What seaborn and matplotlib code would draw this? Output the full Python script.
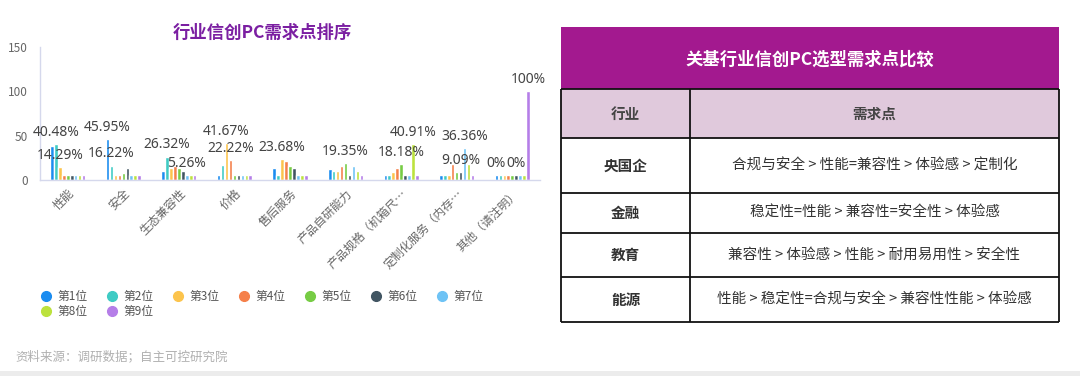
import numpy as np
import pandas as pd
import matplotlib
matplotlib.use("Agg")
import matplotlib.pyplot as plt
import seaborn as sns
from matplotlib.lines import Line2D
from matplotlib.patches import Rectangle

# ---------------- data ----------------
categories = ["性能", "安全", "生态兼容性", "价格", "售后服务", "产品自研能力",
              "产品规格（机箱尺…", "定制化服务（内存…", "其他（请注明）"]
ranks = ["第1位", "第2位", "第3位", "第4位", "第5位", "第6位", "第7位", "第8位", "第9位"]

rank_1 = [38.10, 45.95, 10.53, 5.56, 13.16, 12.90, 4.55, 4.55, 0]
rank_2 = [40.48, 16.22, 26.32, 16.67, 2.63, 9.68, 4.55, 4.55, 0]
rank_3 = [14.29, 2.70, 13.16, 41.67, 23.68, 9.68, 9.09, 0, 0]
rank_4 = [2.38, 5.41, 15.79, 22.22, 21.05, 16.13, 13.64, 18.18, 0]
rank_5 = [2.38, 8.11, 13.16, 2.78, 15.79, 19.35, 18.18, 9.09, 0]
rank_6 = [2.38, 13.51, 10.53, 2.78, 13.16, 3.23, 4.55, 9.09, 0]
rank_7 = [0, 2.70, 5.26, 2.78, 2.63, 16.13, 4.55, 36.36, 0]
rank_8 = [0, 2.70, 2.63, 2.78, 2.63, 9.68, 40.91, 18.18, 0]
rank_9 = [0, 2.70, 2.63, 2.78, 5.26, 3.23, 0, 0, 100]
series = [rank_1, rank_2, rank_3, rank_4, rank_5, rank_6, rank_7, rank_8, rank_9]

# which rank's value label is visible in each category
labelled_ranks = [[1, 2], [0, 1], [1, 6], [2, 3], [2], [4], [7, 4], [6, 5], [0, 5, 8]]

colors = ["#1a8cf0", "#3fcbc4", "#fcc44c", "#f5804a", "#76cc44",
          "#415562", "#6ec3f5", "#bce23d", "#b57ee8"]

chart_title = "行业信创PC需求点排序"
table_title = "关基行业信创PC选型需求点比较"
table_header = ["行业", "需求点"]
industries = ["央国企", "金融", "教育", "能源"]
demands = ["合规与安全 > 性能=兼容性 > 体验感 > 定制化",
           "稳定性=性能 > 兼容性=安全性 > 体验感",
           "兼容性 > 体验感 > 性能 > 耐用易用性 > 安全性",
           "性能 > 稳定性=合规与安全 > 兼容性性能 > 体验感"]
source_text = "资料来源：调研数据；自主可控研究院"

# ---------------- style ----------------
sns.set_theme(style="white")
plt.rcParams["font.family"] = ["Noto Sans CJK SC", "DejaVu Sans"]

MIN_BAR = 5.5  # minimum visible bar height (like barMinHeight)

rows = []
for r, vals in zip(ranks, series):
    for c, v in zip(categories, vals):
        rows.append({"category": c, "rank": r, "value": v, "display": max(v, MIN_BAR)})
df = pd.DataFrame(rows)

W, H = 1080, 376
fig = plt.figure(figsize=(W / 100, H / 100), dpi=100)
fig.patch.set_facecolor("white")

ax = fig.add_axes([40 / W, 1 - 180 / H, 500 / W, 133 / H])
sns.barplot(data=df, x="category", y="display", hue="rank", order=categories,
            hue_order=ranks, palette=colors, width=0.64, gap=0.1, saturation=1,
            legend=False, ax=ax)
ax.set_xlim(-0.5, len(categories) - 0.5)
ax.set_ylim(0, 150)
ax.set_yticks([0, 50, 100, 150])
ax.set_xlabel("")
ax.set_ylabel("")
for s in ["top", "right"]:
    ax.spines[s].set_visible(False)
for s in ["left", "bottom"]:
    ax.spines[s].set_color("#d5d8ec")
    ax.spines[s].set_linewidth(1.0)
ax.tick_params(axis="y", length=0, pad=9, labelsize=8.5, labelcolor="#666666")
ax.tick_params(axis="x", length=0, pad=5, labelsize=8.5, labelcolor="#666666")
for lab in ax.get_xticklabels():
    lab.set_rotation(45)
    lab.set_ha("right")
    lab.set_rotation_mode("anchor")

# value labels
for ci, rlist in enumerate(labelled_ranks):
    for ri in rlist:
        bar = ax.containers[ri][ci]
        xc = bar.get_x() + bar.get_width() / 2
        top = bar.get_height()
        ax.annotate(f"{series[ri][ci]:g}%", (xc, top), xytext=(0, 3),
                    textcoords="offset points", ha="center", va="bottom",
                    fontsize=10, color="#444444", family=["Noto Sans", "DejaVu Sans"])

fig.text(262 / W, 1 - 33 / H, chart_title, ha="center", va="center",
         fontsize=12.5, fontweight="bold", color="#7b1fa2")

# legend (reordered so it reads row by row)
handles = [Line2D([0], [0], marker="o", linestyle="none", markersize=7,
                  markerfacecolor=c, markeredgecolor=c) for c in colors]
order = [0, 7, 1, 8, 2, 3, 4, 5, 6]
fig.legend([handles[i] for i in order], [ranks[i] for i in order],
           loc="upper left", bbox_to_anchor=(41 / W, 1 - 290 / H),
           ncol=7, frameon=False, fontsize=8.5, handlelength=0.8, handletextpad=0.6,
           columnspacing=1.65, labelspacing=0.15, borderpad=0, borderaxespad=0,
           labelcolor="#555555")

fig.text(15 / W, 1 - 357 / H, source_text, ha="left", va="center",
         fontsize=9, color="#b0b0b0")

# ---------------- table (pixel overlay) ----------------
tax = fig.add_axes([0, 0, 1, 1], zorder=-1)
tax.set_xlim(0, W)
tax.set_ylim(H, 0)
tax.axis("off")

# bottom band
tax.add_patch(Rectangle((0, 371), W, 5, facecolor="#ececec", edgecolor="none"))

x0, xs, x1 = 561, 690, 1059
y_title0, y_title1 = 27, 89
y_lines = [89, 138, 193, 233, 277, 322]

tax.add_patch(Rectangle((x0, y_title0), x1 - x0, y_title1 - y_title0,
                        facecolor="#a3198f", edgecolor="none"))
tax.text((x0 + x1) / 2, 60, table_title, ha="center", va="center",
         fontsize=12.5, fontweight="bold", color="white")

tax.add_patch(Rectangle((x0, y_lines[0]), x1 - x0, y_lines[1] - y_lines[0],
                        facecolor="#e0c9dc", edgecolor="none"))

lw = 1.3
for y in y_lines:
    tax.plot([x0, x1], [y, y], color="#111111", lw=lw, solid_capstyle="butt")
for x in (x0, xs, x1):
    tax.plot([x, x], [y_lines[0], y_lines[-1]], color="#111111", lw=lw,
             solid_capstyle="butt")

c1 = (x0 + xs) / 2
c2 = (xs + x1) / 2
hy = (y_lines[0] + y_lines[1]) / 2
tax.text(c1, hy, table_header[0], ha="center", va="center", fontsize=10.5,
         fontweight="bold", color="#444444")
tax.text(c2, hy, table_header[1], ha="center", va="center", fontsize=10.5,
         fontweight="bold", color="#444444")
for i, (ind, dem) in enumerate(zip(industries, demands)):
    yc = (y_lines[i + 1] + y_lines[i + 2]) / 2
    tax.text(c1, yc, ind, ha="center", va="center", fontsize=10.5,
             fontweight="bold", color="#333333")
    tax.text(c2, yc, dem, ha="center", va="center", fontsize=10.5, color="#333333")

fig.savefig("out.png", dpi=100, facecolor="white")
